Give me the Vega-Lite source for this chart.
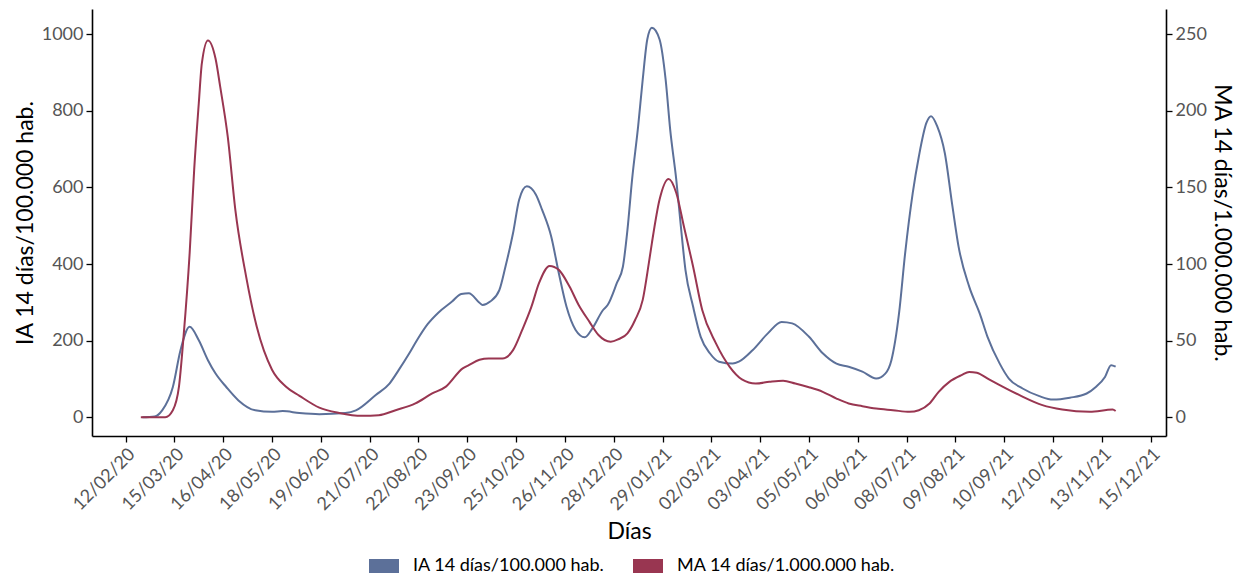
{
  "$schema": "https://vega.github.io/schema/vega-lite/v6.json",
  "width": 1074,
  "height": 427,
  "padding": {"left": 14, "top": 9, "right": 0, "bottom": 0},
  "config": {
    "font": "Lato",
    "view": {"stroke": null},
    "axis": {
      "grid": false,
      "domainColor": "#000000",
      "domainWidth": 1.6,
      "tickColor": "#000000",
      "tickWidth": 1.3,
      "tickSize": 6,
      "labelColor": "#555555",
      "labelFontSize": 18,
      "labelPadding": 3,
      "labelOverlap": false,
      "titleColor": "#000000",
      "titleFontSize": 23,
      "titleFontWeight": "normal"
    }
  },
  "data": {
    "values": [
      {"d": "2020/02/23", "s": "IA", "v": 0},
      {"d": "2020/03/02", "s": "IA", "v": 2},
      {"d": "2020/03/07", "s": "IA", "v": 18},
      {"d": "2020/03/14", "s": "IA", "v": 79},
      {"d": "2020/03/19", "s": "IA", "v": 175},
      {"d": "2020/03/25", "s": "IA", "v": 236},
      {"d": "2020/03/31", "s": "IA", "v": 201},
      {"d": "2020/04/06", "s": "IA", "v": 149},
      {"d": "2020/04/11", "s": "IA", "v": 114},
      {"d": "2020/04/18", "s": "IA", "v": 79},
      {"d": "2020/04/26", "s": "IA", "v": 44},
      {"d": "2020/05/07", "s": "IA", "v": 18},
      {"d": "2020/05/18", "s": "IA", "v": 14},
      {"d": "2020/05/25", "s": "IA", "v": 16},
      {"d": "2020/06/05", "s": "IA", "v": 11},
      {"d": "2020/06/18", "s": "IA", "v": 8},
      {"d": "2020/07/05", "s": "IA", "v": 11},
      {"d": "2020/07/12", "s": "IA", "v": 18},
      {"d": "2020/07/25", "s": "IA", "v": 58},
      {"d": "2020/08/03", "s": "IA", "v": 88},
      {"d": "2020/08/09", "s": "IA", "v": 123},
      {"d": "2020/08/16", "s": "IA", "v": 167},
      {"d": "2020/08/21", "s": "IA", "v": 201},
      {"d": "2020/08/28", "s": "IA", "v": 243},
      {"d": "2020/09/04", "s": "IA", "v": 273},
      {"d": "2020/09/13", "s": "IA", "v": 302},
      {"d": "2020/09/19", "s": "IA", "v": 322},
      {"d": "2020/09/24", "s": "IA", "v": 324},
      {"d": "2020/10/01", "s": "IA", "v": 299},
      {"d": "2020/10/03", "s": "IA", "v": 293},
      {"d": "2020/10/08", "s": "IA", "v": 302},
      {"d": "2020/10/14", "s": "IA", "v": 332},
      {"d": "2020/10/18", "s": "IA", "v": 393},
      {"d": "2020/10/23", "s": "IA", "v": 481},
      {"d": "2020/10/27", "s": "IA", "v": 568},
      {"d": "2020/11/01", "s": "IA", "v": 603},
      {"d": "2020/11/07", "s": "IA", "v": 581},
      {"d": "2020/11/11", "s": "IA", "v": 542},
      {"d": "2020/11/17", "s": "IA", "v": 472},
      {"d": "2020/11/22", "s": "IA", "v": 376},
      {"d": "2020/11/27", "s": "IA", "v": 289},
      {"d": "2020/12/03", "s": "IA", "v": 228},
      {"d": "2020/12/09", "s": "IA", "v": 209},
      {"d": "2020/12/14", "s": "IA", "v": 232},
      {"d": "2020/12/21", "s": "IA", "v": 280},
      {"d": "2020/12/24", "s": "IA", "v": 293},
      {"d": "2020/12/30", "s": "IA", "v": 350},
      {"d": "2021/01/03", "s": "IA", "v": 393},
      {"d": "2021/01/06", "s": "IA", "v": 490},
      {"d": "2021/01/09", "s": "IA", "v": 620},
      {"d": "2021/01/13", "s": "IA", "v": 760},
      {"d": "2021/01/16", "s": "IA", "v": 882},
      {"d": "2021/01/19", "s": "IA", "v": 987},
      {"d": "2021/01/22", "s": "IA", "v": 1017},
      {"d": "2021/01/27", "s": "IA", "v": 987},
      {"d": "2021/01/31", "s": "IA", "v": 882},
      {"d": "2021/02/03", "s": "IA", "v": 751},
      {"d": "2021/02/07", "s": "IA", "v": 620},
      {"d": "2021/02/10", "s": "IA", "v": 498},
      {"d": "2021/02/13", "s": "IA", "v": 385},
      {"d": "2021/02/18", "s": "IA", "v": 289},
      {"d": "2021/02/23", "s": "IA", "v": 210},
      {"d": "2021/03/01", "s": "IA", "v": 167},
      {"d": "2021/03/07", "s": "IA", "v": 145},
      {"d": "2021/03/16", "s": "IA", "v": 140},
      {"d": "2021/03/20", "s": "IA", "v": 145},
      {"d": "2021/03/29", "s": "IA", "v": 175},
      {"d": "2021/04/08", "s": "IA", "v": 219},
      {"d": "2021/04/17", "s": "IA", "v": 249},
      {"d": "2021/04/24", "s": "IA", "v": 245},
      {"d": "2021/05/05", "s": "IA", "v": 210},
      {"d": "2021/05/14", "s": "IA", "v": 167},
      {"d": "2021/05/23", "s": "IA", "v": 140},
      {"d": "2021/05/31", "s": "IA", "v": 132},
      {"d": "2021/06/09", "s": "IA", "v": 119},
      {"d": "2021/06/18", "s": "IA", "v": 101},
      {"d": "2021/06/24", "s": "IA", "v": 114},
      {"d": "2021/06/28", "s": "IA", "v": 149},
      {"d": "2021/07/03", "s": "IA", "v": 271},
      {"d": "2021/07/07", "s": "IA", "v": 428},
      {"d": "2021/07/12", "s": "IA", "v": 586},
      {"d": "2021/07/16", "s": "IA", "v": 681},
      {"d": "2021/07/21", "s": "IA", "v": 769},
      {"d": "2021/07/24", "s": "IA", "v": 786},
      {"d": "2021/07/28", "s": "IA", "v": 760},
      {"d": "2021/08/02", "s": "IA", "v": 690},
      {"d": "2021/08/07", "s": "IA", "v": 551},
      {"d": "2021/08/11", "s": "IA", "v": 446},
      {"d": "2021/08/18", "s": "IA", "v": 341},
      {"d": "2021/08/25", "s": "IA", "v": 270},
      {"d": "2021/08/30", "s": "IA", "v": 210},
      {"d": "2021/09/07", "s": "IA", "v": 140},
      {"d": "2021/09/13", "s": "IA", "v": 101},
      {"d": "2021/09/22", "s": "IA", "v": 75},
      {"d": "2021/10/03", "s": "IA", "v": 55},
      {"d": "2021/10/12", "s": "IA", "v": 46},
      {"d": "2021/10/23", "s": "IA", "v": 51},
      {"d": "2021/11/03", "s": "IA", "v": 62},
      {"d": "2021/11/09", "s": "IA", "v": 79},
      {"d": "2021/11/15", "s": "IA", "v": 105},
      {"d": "2021/11/19", "s": "IA", "v": 136},
      {"d": "2021/11/22", "s": "IA", "v": 132},
      {"d": "2020/02/22", "s": "MA", "v": 0},
      {"d": "2020/03/09", "s": "MA", "v": 0},
      {"d": "2020/03/14", "s": "MA", "v": 4.6},
      {"d": "2020/03/18", "s": "MA", "v": 20},
      {"d": "2020/03/21", "s": "MA", "v": 52.5},
      {"d": "2020/03/25", "s": "MA", "v": 107},
      {"d": "2020/03/28", "s": "MA", "v": 162},
      {"d": "2020/03/31", "s": "MA", "v": 205},
      {"d": "2020/04/02", "s": "MA", "v": 231},
      {"d": "2020/04/06", "s": "MA", "v": 246},
      {"d": "2020/04/11", "s": "MA", "v": 234},
      {"d": "2020/04/14", "s": "MA", "v": 216},
      {"d": "2020/04/19", "s": "MA", "v": 183},
      {"d": "2020/04/24", "s": "MA", "v": 135},
      {"d": "2020/05/01", "s": "MA", "v": 92},
      {"d": "2020/05/08", "s": "MA", "v": 59},
      {"d": "2020/05/18", "s": "MA", "v": 31},
      {"d": "2020/05/27", "s": "MA", "v": 20},
      {"d": "2020/06/05", "s": "MA", "v": 14},
      {"d": "2020/06/18", "s": "MA", "v": 6.3},
      {"d": "2020/07/01", "s": "MA", "v": 2.8},
      {"d": "2020/07/16", "s": "MA", "v": 0.9},
      {"d": "2020/07/27", "s": "MA", "v": 1.3},
      {"d": "2020/08/07", "s": "MA", "v": 4.6},
      {"d": "2020/08/20", "s": "MA", "v": 9},
      {"d": "2020/08/31", "s": "MA", "v": 15.5},
      {"d": "2020/09/09", "s": "MA", "v": 20},
      {"d": "2020/09/20", "s": "MA", "v": 31.9},
      {"d": "2020/09/24", "s": "MA", "v": 34},
      {"d": "2020/10/01", "s": "MA", "v": 37.5},
      {"d": "2020/10/07", "s": "MA", "v": 38.4},
      {"d": "2020/10/16", "s": "MA", "v": 38.4},
      {"d": "2020/10/23", "s": "MA", "v": 43.8},
      {"d": "2020/10/29", "s": "MA", "v": 57},
      {"d": "2020/11/04", "s": "MA", "v": 72},
      {"d": "2020/11/09", "s": "MA", "v": 87.5},
      {"d": "2020/11/16", "s": "MA", "v": 98.8},
      {"d": "2020/11/22", "s": "MA", "v": 96.2},
      {"d": "2020/11/29", "s": "MA", "v": 85.3},
      {"d": "2020/12/05", "s": "MA", "v": 73.3},
      {"d": "2020/12/12", "s": "MA", "v": 62.4},
      {"d": "2020/12/18", "s": "MA", "v": 53.7},
      {"d": "2020/12/26", "s": "MA", "v": 49.3},
      {"d": "2020/12/31", "s": "MA", "v": 50.9},
      {"d": "2021/01/06", "s": "MA", "v": 54.8},
      {"d": "2021/01/11", "s": "MA", "v": 63.5},
      {"d": "2021/01/16", "s": "MA", "v": 76.6},
      {"d": "2021/01/20", "s": "MA", "v": 100.6},
      {"d": "2021/01/22", "s": "MA", "v": 113.7},
      {"d": "2021/01/27", "s": "MA", "v": 142},
      {"d": "2021/02/02", "s": "MA", "v": 155.6},
      {"d": "2021/02/07", "s": "MA", "v": 146.4},
      {"d": "2021/02/12", "s": "MA", "v": 124.5},
      {"d": "2021/02/18", "s": "MA", "v": 98.4},
      {"d": "2021/02/24", "s": "MA", "v": 70},
      {"d": "2021/03/05", "s": "MA", "v": 48.2},
      {"d": "2021/03/14", "s": "MA", "v": 32.9},
      {"d": "2021/03/22", "s": "MA", "v": 24.7},
      {"d": "2021/03/31", "s": "MA", "v": 22},
      {"d": "2021/04/09", "s": "MA", "v": 23.1},
      {"d": "2021/04/18", "s": "MA", "v": 23.8},
      {"d": "2021/04/26", "s": "MA", "v": 22},
      {"d": "2021/05/05", "s": "MA", "v": 19.6},
      {"d": "2021/05/14", "s": "MA", "v": 16.6},
      {"d": "2021/05/23", "s": "MA", "v": 12.2},
      {"d": "2021/05/31", "s": "MA", "v": 9},
      {"d": "2021/06/09", "s": "MA", "v": 7.2},
      {"d": "2021/06/18", "s": "MA", "v": 5.7},
      {"d": "2021/06/29", "s": "MA", "v": 4.6},
      {"d": "2021/07/10", "s": "MA", "v": 3.5},
      {"d": "2021/07/16", "s": "MA", "v": 4.6},
      {"d": "2021/07/23", "s": "MA", "v": 9},
      {"d": "2021/07/29", "s": "MA", "v": 16.6},
      {"d": "2021/08/05", "s": "MA", "v": 23.1},
      {"d": "2021/08/13", "s": "MA", "v": 27.5},
      {"d": "2021/08/18", "s": "MA", "v": 29.6},
      {"d": "2021/08/23", "s": "MA", "v": 29},
      {"d": "2021/08/31", "s": "MA", "v": 24.7},
      {"d": "2021/09/07", "s": "MA", "v": 21},
      {"d": "2021/09/20", "s": "MA", "v": 14.4},
      {"d": "2021/10/05", "s": "MA", "v": 7.9},
      {"d": "2021/10/18", "s": "MA", "v": 5},
      {"d": "2021/11/05", "s": "MA", "v": 3.5},
      {"d": "2021/11/20", "s": "MA", "v": 5},
      {"d": "2021/11/22", "s": "MA", "v": 4.1}
    ]
  },
  "encoding": {
    "x": {
      "field": "d",
      "type": "temporal",
      "scale": {"domain": [{"year": 2020, "month": 1, "date": 21}, {"year": 2021, "month": 12, "date": 25}]},
      "axis": {
        "title": "Días",
        "format": "%d/%m/%y",
        "labelAngle": -45,
        "titlePadding": 7,
        "values": [
          {"year": 2020, "month": 2, "date": 12},
          {"year": 2020, "month": 3, "date": 15},
          {"year": 2020, "month": 4, "date": 16},
          {"year": 2020, "month": 5, "date": 18},
          {"year": 2020, "month": 6, "date": 19},
          {"year": 2020, "month": 7, "date": 21},
          {"year": 2020, "month": 8, "date": 22},
          {"year": 2020, "month": 9, "date": 23},
          {"year": 2020, "month": 10, "date": 25},
          {"year": 2020, "month": 11, "date": 26},
          {"year": 2020, "month": 12, "date": 28},
          {"year": 2021, "month": 1, "date": 29},
          {"year": 2021, "month": 3, "date": 2},
          {"year": 2021, "month": 4, "date": 3},
          {"year": 2021, "month": 5, "date": 5},
          {"year": 2021, "month": 6, "date": 6},
          {"year": 2021, "month": 7, "date": 8},
          {"year": 2021, "month": 8, "date": 9},
          {"year": 2021, "month": 9, "date": 10},
          {"year": 2021, "month": 10, "date": 12},
          {"year": 2021, "month": 11, "date": 13},
          {"year": 2021, "month": 12, "date": 15}
        ]
      }
    },
    "color": {
      "field": "s",
      "type": "nominal",
      "scale": {"domain": ["IA", "MA"], "range": ["#5c7099", "#993651"]},
      "legend": {
        "orient": "none",
        "legendX": 270,
        "legendY": 535,
        "direction": "horizontal",
        "title": null,
        "symbolType": "stroke",
        "symbolSize": 900,
        "symbolStrokeWidth": 14,
        "labelFontSize": 18,
        "labelLimit": 0,
        "labelColor": "#000000",
        "labelOffset": 7,
        "columnPadding": 0,
        "labelExpr": "datum.label == 'IA' ? 'IA 14 días/100.000 hab.' : 'MA 14 días/1.000.000 hab.'"
      }
    }
  },
  "layer": [
    {
      "transform": [{"filter": "datum.s == 'IA'"}],
      "mark": {"type": "line", "interpolate": "monotone", "strokeWidth": 2},
      "encoding": {
        "y": {
          "field": "v",
          "type": "quantitative",
          "scale": {"domain": [-49, 1066], "nice": false, "zero": false},
          "axis": {"orient": "left", "title": "IA 14 días/100.000 hab.", "format": "d", "values": [0, 200, 400, 600, 800, 1000], "titlePadding": 4}
        }
      }
    },
    {
      "transform": [{"filter": "datum.s == 'MA'"}],
      "mark": {"type": "line", "interpolate": "monotone", "strokeWidth": 2},
      "encoding": {
        "y": {
          "field": "v",
          "type": "quantitative",
          "scale": {"domain": [-12.25, 266.5], "nice": false, "zero": false},
          "axis": {"orient": "right", "title": "MA 14 días/1.000.000 hab.", "format": "d", "values": [0, 50, 100, 150, 200, 250], "titlePadding": 3}
        }
      }
    }
  ],
  "resolve": {"scale": {"y": "independent"}}
}
